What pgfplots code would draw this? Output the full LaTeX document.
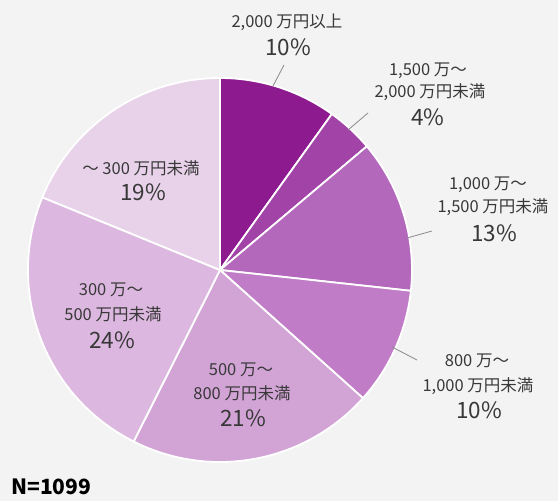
\documentclass[border=0pt]{standalone}
\usepackage{pgfplots}
\pgfplotsset{compat=1.18}
\usepackage{fontspec}
\setmainfont{Noto Sans CJK JP}
\newfontfamily\cjk{Noto Sans CJK JP}
\definecolor{bg}{HTML}{F3F3F3}
\definecolor{txt}{HTML}{383838}
\definecolor{lead}{HTML}{8A8A8A}
\definecolor{c1}{HTML}{8E1A90}
\definecolor{c2}{HTML}{A243A8}
\definecolor{c3}{HTML}{B468BC}
\definecolor{c4}{HTML}{C17CC7}
\definecolor{c5}{HTML}{D2A4D6}
\definecolor{c6}{HTML}{DCB7DF}
\definecolor{c7}{HTML}{E8D2EA}
\newcommand{\lab}[1]{{\fontsize{16.5}{18}\selectfont\cjk #1}}
\newcommand{\pct}[1]{{\fontsize{22.5}{24}\selectfont\cjk #1}}
\begin{document}
\begin{tikzpicture}
\begin{axis}[
  x=1pt, y=1pt, xmin=0, xmax=558, ymin=0, ymax=501,
  scale only axis, hide axis, clip=false,
]
\fill[bg] (axis cs:0,0) rectangle (axis cs:558,501);
% slices: value (percent) / colour, clockwise from 12 o'clock; total 101
\foreach \v/\c [remember=\e as \s (initially 90)] in {10/c1, 4/c2, 13/c3, 10/c4, 21/c5, 24/c6, 19/c7} {
  \pgfmathsetmacro\e{\s - \v/101*360}
  \edef\tmp{\noexpand\fill[\c, draw=white, line width=1.8pt, line join=round] (axis cs:220,231) -- ++(\s:192pt) arc[start angle=\s, end angle=\e, radius=192pt] -- cycle;}
  \tmp
}
% leader lines
\draw[lead, line width=0.8pt] (axis cs:284,436) -- (axis cs:273,415);
\draw[lead, line width=0.8pt] (axis cs:348,371) -- (axis cs:368,388);
\draw[lead, line width=0.8pt] (axis cs:407,263) -- (axis cs:432,270);
\draw[lead, line width=0.8pt] (axis cs:392,154) -- (axis cs:417,141);
% labels
\begin{scope}[every node/.style={text=txt, inner sep=0pt}]
\node at (axis cs:287,479) {\lab{2,000 万円以上}};
\node at (axis cs:288,454) {\pct{10\%}};
\node at (axis cs:428,430) {\lab{1,500 万～}};
\node at (axis cs:430,409) {\lab{2,000 万円未満}};
\node at (axis cs:428,384) {\pct{4\%}};
\node at (axis cs:488,316) {\lab{1,000 万～}};
\node at (axis cs:493,294) {\lab{1,500 万円未満}};
\node at (axis cs:494,268) {\pct{13\%}};
\node at (axis cs:477,140) {\lab{800 万～}};
\node at (axis cs:478,115) {\lab{1,000 万円未満}};
\node at (axis cs:479,91) {\pct{10\%}};
\node at (axis cs:141,333) {\lab{～ 300 万円未満}};
\node at (axis cs:143,309) {\pct{19\%}};
\node at (axis cs:111,211) {\lab{300 万～}};
\node at (axis cs:113,187) {\lab{500 万円未満}};
\node at (axis cs:112,161) {\pct{24\%}};
\node at (axis cs:241,131) {\lab{500 万～}};
\node at (axis cs:242,108) {\lab{800 万円未満}};
\node at (axis cs:243,83) {\pct{21\%}};
\node[anchor=west, text=black] at (axis cs:11,14) {\fontsize{21}{23}\selectfont\cjk\bfseries N=1099};
\end{scope}
\end{axis}
\end{tikzpicture}
\end{document}
